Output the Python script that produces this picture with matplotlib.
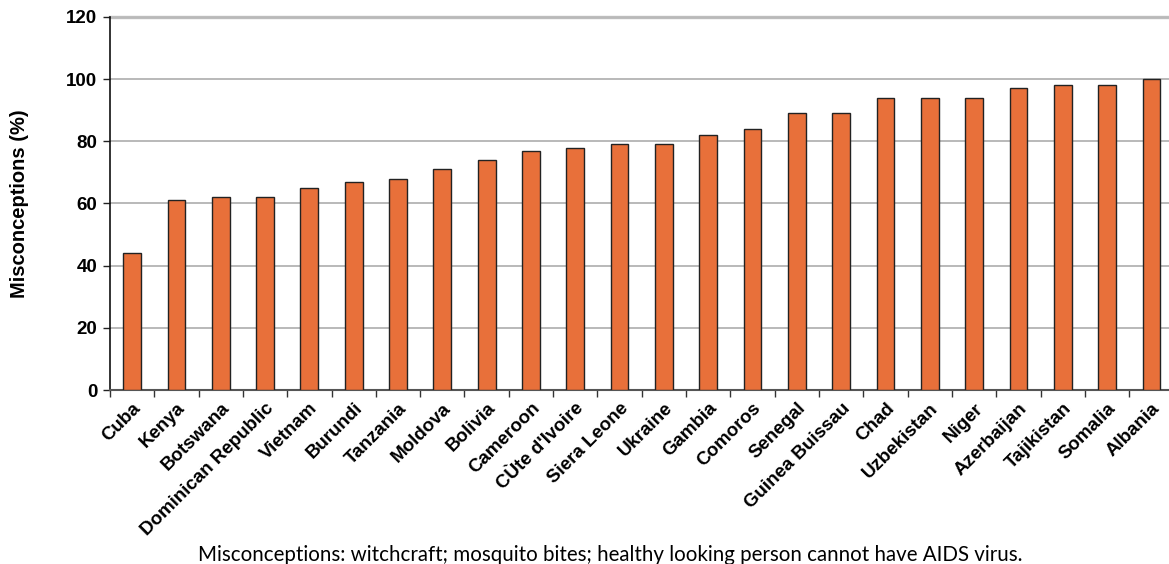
import numpy as np
import matplotlib.pyplot as plt
import matplotlib.transforms as mtransforms
from matplotlib.ticker import FixedLocator, NullFormatter

countries = ["Cuba", "Kenya", "Botswana", "Dominican Republic", "Vietnam", "Burundi",
             "Tanzania", "Moldova", "Bolivia", "Cameroon", "CÙte d'Ivoire", "Siera Leone",
             "Ukraine", "Gambia", "Comoros", "Senegal", "Guinea Buissau", "Chad",
             "Uzbekistan", "Niger", "Azerbaijan", "Tajikistan", "Somalia", "Albania"]
misconceptions = [44, 61, 62, 62, 65, 67, 68, 71, 74, 77, 78, 79,
                  79, 82, 84, 89, 89, 94, 94, 94, 97, 98, 98, 100]
y_ticks = [0, 20, 40, 60, 80, 100, 120]

plt.rcParams['font.family'] = ['Liberation Sans', 'DejaVu Sans']

fig = plt.figure(figsize=(11.69, 5.64), dpi=100)
ax = fig.add_axes([0.094, 0.3085, 0.91, 0.6615])

x = np.arange(len(countries))
ax.bar(x, misconceptions, width=0.4, color="#E8703A", edgecolor="#222222",
       linewidth=1.0, zorder=3)

ax.set_xlim(-0.5, len(countries) - 0.5)
ax.set_ylim(0, 120)
ax.set_yticks(y_ticks)
ax.set_yticklabels([str(v) for v in y_ticks], fontsize=13.5, fontweight="bold")
ax.yaxis.grid(True, color="#b3b3b3", linewidth=1.3, zorder=0)
# double rule along the top of the plot area
ax.axhline(120, color="#bdbdbd", linewidth=2.4, zorder=1, clip_on=False)
ax.axhline(120, color="white", linewidth=0.6, zorder=1, clip_on=False)

# category labels sit at bar centres, tick marks between categories
ax.set_xticks(x)
ax.set_xticklabels(countries, rotation=45, ha="right", rotation_mode="anchor",
                   fontsize=13.5, fontweight="bold")
shift = mtransforms.ScaledTranslation(-7 / 100, 0, fig.dpi_scale_trans)
for lbl in ax.get_xticklabels():
    lbl.set_transform(lbl.get_transform() + shift)
ax.tick_params(axis="x", which="major", length=0, pad=7)
ax.xaxis.set_minor_locator(FixedLocator(np.arange(-0.5, len(countries), 1.0)))
ax.xaxis.set_minor_formatter(NullFormatter())
ax.tick_params(axis="x", which="minor", length=5, width=1.0, color="#333333")
ax.tick_params(axis="y", length=5, width=1.0, color="#222222", pad=4)

for side in ["top", "right"]:
    ax.spines[side].set_visible(False)
ax.spines["left"].set_color("#111111")
ax.spines["left"].set_linewidth(1.2)
ax.spines["bottom"].set_color("#555555")
ax.spines["bottom"].set_linewidth(1.5)

ax.set_ylabel("Misconceptions (%)", fontsize=14.5, fontweight="bold")
ax.yaxis.set_label_coords(-0.076, 0.5)

fig.text(0.522, 0.016, "Misconceptions: witchcraft; mosquito bites; healthy looking person cannot have AIDS virus.",
         ha="center", va="center", fontsize=14.8, family=["Lato", "DejaVu Sans"])

fig.savefig("out.png", dpi=100)
